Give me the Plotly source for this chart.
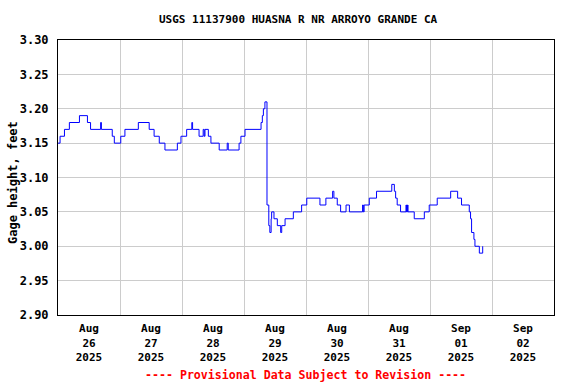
import plotly.graph_objects as go
from datetime import datetime, timedelta

# Gage height readings (hours since 2025-08-26 00:00, feet) - step changes
hours = [0.0, 0.8, 2.5, 4.4, 8.3, 11.4, 12.6, 16.5, 16.8, 21.0, 21.8, 24.3, 25.9, 31.1, 35.3,
         37.2, 39.2, 41.4, 46.2, 47.6, 49.8, 51.8, 52.1, 54.6, 56.2, 56.6, 56.9, 58.2, 59.2,
         62.4, 65.5, 65.9, 70.1, 70.8, 72.4, 78.6, 79.1, 79.5, 80.1, 80.9, 81.6, 82.0, 82.5,
         82.7, 83.6, 84.9, 86.2, 86.6, 87.9, 91.1, 94.3, 96.3, 101.4, 103.7, 106.3, 106.8,
         108.1, 109.4, 111.5, 112.8, 117.9, 118.2, 118.5, 120.5, 123.3, 129.2, 130.2, 130.7,
         131.3, 132.6, 134.7, 134.9, 135.3, 135.5, 137.9, 141.8, 143.7, 146.8, 152.0, 154.7,
         156.2, 159.2, 159.7, 160.1, 161.0, 161.4, 163.1, 164.4]
gage_ft = [3.15, 3.16, 3.17, 3.18, 3.19, 3.18, 3.17, 3.18, 3.17, 3.16, 3.15, 3.16, 3.17, 3.18, 3.17,
           3.16, 3.15, 3.14, 3.15, 3.16, 3.17, 3.18, 3.17, 3.16, 3.17, 3.16, 3.17, 3.16, 3.15,
           3.14, 3.15, 3.14, 3.15, 3.16, 3.17, 3.18, 3.19, 3.20, 3.21, 3.06, 3.03, 3.02, 3.04,
           3.05, 3.04, 3.03, 3.02, 3.03, 3.04, 3.05, 3.06, 3.07, 3.06, 3.07, 3.08, 3.07,
           3.06, 3.05, 3.06, 3.05, 3.06, 3.05, 3.06, 3.07, 3.08, 3.09, 3.08, 3.07,
           3.06, 3.05, 3.06, 3.05, 3.06, 3.05, 3.04, 3.05, 3.06, 3.07, 3.08, 3.07,
           3.06, 3.05, 3.04, 3.02, 3.01, 3.00, 2.99, 3.00]

start = datetime(2025, 8, 26)
times = [start + timedelta(hours=h) for h in hours]

tick_dates = ["2025-08-26 12:00", "2025-08-27 12:00", "2025-08-28 12:00", "2025-08-29 12:00",
              "2025-08-30 12:00", "2025-08-31 12:00", "2025-09-01 12:00", "2025-09-02 12:00"]
tick_labels = ["Aug<br>26<br>2025", "Aug<br>27<br>2025", "Aug<br>28<br>2025", "Aug<br>29<br>2025",
               "Aug<br>30<br>2025", "Aug<br>31<br>2025", "Sep<br>01<br>2025", "Sep<br>02<br>2025"]
y_ticks = [2.90, 2.95, 3.00, 3.05, 3.10, 3.15, 3.20, 3.25, 3.30]

FONT = "DejaVu Sans Mono"

fig = go.Figure()
fig.add_trace(go.Scatter(x=times, y=gage_ft, mode="lines", line=dict(color="#0000ff", width=1, shape="hv"),
                         hoverinfo="skip", showlegend=False))

fig.update_layout(
    width=576, height=384,
    margin=dict(l=58, r=22, t=40, b=69),
    paper_bgcolor="white", plot_bgcolor="white",
    font=dict(family=FONT, size=11, color="black"),
    showlegend=False,
    xaxis=dict(
        range=["2025-08-26 00:00", "2025-09-03 00:00"], automargin=False,
        tickmode="array", tickvals=tick_dates, ticktext=tick_labels,
        showgrid=False, ticks="", ticklabelstandoff=3,
        tickfont=dict(family=FONT, size=11, color="black", weight="bold"),
        minor=dict(showgrid=True, gridcolor="#cccccc", gridwidth=1, dtick=86400000, tick0="2025-08-26", ticks=""),
        showline=True, linecolor="black", linewidth=1, mirror=True, zeroline=False,
    ),
    yaxis=dict(
        range=[2.9, 3.3], tickmode="array", tickvals=y_ticks, automargin=False,
        ticktext=[f"{v:.2f}" for v in y_ticks],
        showgrid=True, gridcolor="#cccccc", gridwidth=1, ticks="", ticklabelstandoff=6,
        tickfont=dict(family=FONT, size=12, color="black", weight="bold"),
        showline=True, linecolor="black", linewidth=1, mirror=True, zeroline=False,
    ),
    annotations=[
        dict(text="USGS 11137900 HUASNA R NR ARROYO GRANDE CA", xref="paper", yref="paper",
             x=(298 - 58) / 496, y=1 + (40 - 20) / 275, xanchor="center", yanchor="middle", showarrow=False,
             font=dict(family=FONT, size=11, color="black", weight="bold")),
        dict(text="Gage height, feet", xref="paper", yref="paper", x=(13 - 58) / 496, y=0.5 - (183 - 177.5) / 275,
             xanchor="center", yanchor="middle", textangle=-90, showarrow=False,
             font=dict(family=FONT, size=12, color="black", weight="bold")),
        dict(text="---- Provisional Data Subject to Revision ----", xref="paper", yref="paper",
             x=(305.5 - 58) / 496, y=-(375 - 315) / 275, xanchor="center", yanchor="middle", showarrow=False,
             font=dict(family=FONT, size=11.6, color="red", weight="bold")),
    ],
)

fig.write_html("out.html", config={"displayModeBar": False},
               post_script="document.body.style.margin='0';")
